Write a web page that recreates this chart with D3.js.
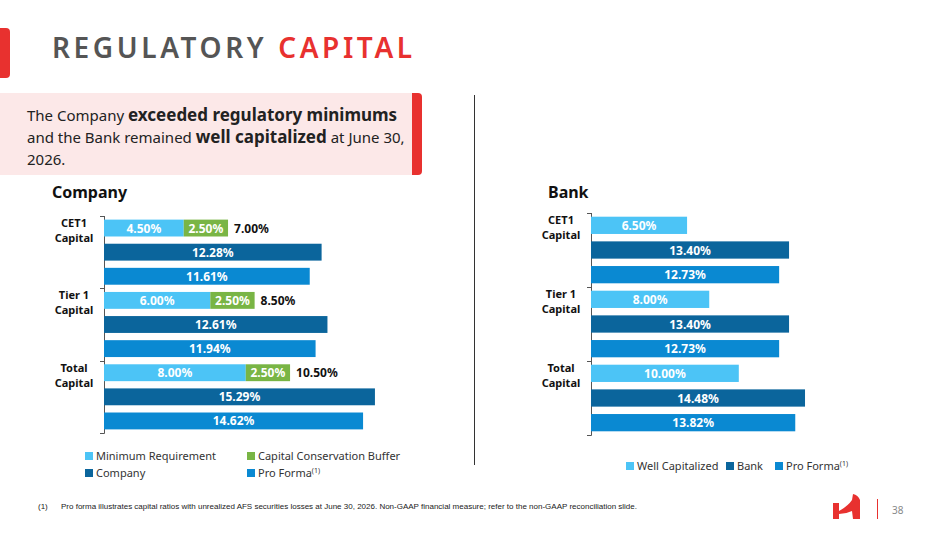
<!DOCTYPE html>
<html><head><meta charset="utf-8">
<script src="https://cdn.jsdelivr.net/npm/d3@7"></script>
<style>body{margin:0;background:#fff}svg{display:block;font-family:"Noto Sans",sans-serif}</style>
</head><body>
<svg id="c" width="949" height="534"></svg>
<script>
const groups = ['CET1 Capital', 'Tier 1 Capital', 'Total Capital'];
// company
const companyMin = [4.50, 6.00, 8.00];
const companyBuffer = [2.50, 2.50, 2.50];
const companyActual = [12.28, 12.61, 15.29];
const companyProForma = [11.61, 11.94, 14.62];
// bank
const bankWell = [6.50, 8.00, 10.00];
const bankActual = [13.40, 13.40, 14.48];
const bankProForma = [12.73, 12.73, 13.82];

const col = { light: '#4cc4f6', green: '#79b545', dark: '#0b659c', pro: '#0a89d2' };
const svg = d3.select('#c');
const fmt = d => d.toFixed(2) + '%';

// header
svg.append('rect').attr('x', -10).attr('y', 28).attr('width', 20).attr('height', 50).attr('rx', 4).attr('fill', '#e8312f');
const t = svg.append('text').attr('x', 52).attr('y', 58).attr('font-size', 28).attr('font-weight', 600).attr('letter-spacing', 3.6);
t.append('tspan').attr('fill', '#555').text('REGULATORY ');
t.append('tspan').attr('fill', '#e8312f').text('CAPITAL');

svg.append('rect').attr('x', 400).attr('y', 93).attr('width', 22).attr('height', 82).attr('rx', 4).attr('fill', '#e8312f');
svg.append('rect').attr('x', 0).attr('y', 93).attr('width', 412).attr('height', 82).attr('fill', '#fce8e8');
const lines = [
  [['The Company ', 400], ['exceeded regulatory minimums', 700]],
  [['and the Bank remained ', 400], ['well capitalized', 700], [' at June 30,', 400]],
  [['2026.', 400]]
];
lines.forEach((ln, i) => {
  const tx = svg.append('text').attr('x', 27).attr('y', 121 + i * 22).attr('font-size', 15).attr('fill', '#222');
  ln.forEach(([s, w]) => tx.append('tspan').attr('font-weight', w).attr('font-size', w === 700 ? 17 : 15).text(s));
});
svg.append('line').attr('x1', 474.5).attr('x2', 474.5).attr('y1', 95).attr('y2', 465).attr('stroke', '#333').attr('stroke-width', 1);

function panel(o) {
  const g = svg.append('g');
  g.append('text').attr('x', o.titleX).attr('y', 198).attr('font-size', 16).attr('font-weight', 700).attr('fill', '#111').text(o.title);
  const y = d3.scaleBand().domain(groups).range([o.y0, o.y1]);
  const x = d3.scaleLinear().domain([0, 1]).range([o.x0, o.x0 + o.pxPer]);
  const inner = d3.scaleBand().domain([0, 1, 2]).range([0, y.bandwidth()]).paddingInner(0.3).paddingOuter(0.15);
  const ax = g.append('g').attr('transform', `translate(${o.x0},0)`)
    .call(d3.axisLeft(y).tickValues([]).tickSizeOuter(4));
  ax.select('.domain').attr('stroke', '#555');
  groups.forEach((gr, i) => {
    const yy = Math.round(y(gr)) + 0.5;
    g.append('line').attr('x1', o.x0 - 4).attr('x2', o.x0 + 1).attr('y1', yy).attr('y2', yy).attr('stroke', '#555');
    const lbl = gr.split(' ');
    const lt = g.append('text').attr('text-anchor', 'middle').attr('font-size', 11).attr('font-weight', 700).attr('fill', '#111');
    lt.append('tspan').attr('x', o.x0 - 30).attr('y', y(gr) + 11).text(lbl[0] === 'Tier' ? 'Tier 1' : lbl[0]);
    lt.append('tspan').attr('x', o.x0 - 30).attr('y', y(gr) + 26).text('Capital');
  });
  o.rows.forEach((r, k) => {
    groups.forEach((gr, i) => {
      const by = y(gr) + inner(k), bh = inner.bandwidth();
      let start = 0;
      r.forEach(s => {
        const v = s.values[i];
        g.append('rect').attr('x', x(start)).attr('y', by).attr('width', x(start + v) - x(start)).attr('height', bh).attr('fill', s.color);
        g.append('text').attr('x', (x(start) + x(start + v)) / 2).attr('y', by + bh / 2 + 4.5)
          .attr('text-anchor', 'middle').attr('font-size', 12).attr('font-weight', 700).attr('fill', '#fff').text(fmt(v));
        start += v;
      });
      if (r.length > 1) {
        g.append('text').attr('x', x(start) + 6).attr('y', by + bh / 2 + 4.5).attr('font-size', 12)
          .attr('font-weight', 700).attr('fill', '#111').text(fmt(start));
      }
    });
  });
  o.legend.forEach(l => {
    g.append('rect').attr('x', l.x).attr('y', l.y - 8).attr('width', 8).attr('height', 8).attr('fill', l.color);
    const lt = g.append('text').attr('x', l.x + 11).attr('y', l.y).attr('font-size', 11).attr('fill', '#333').text(l.name);
    if (l.sup) lt.append('tspan').attr('font-size', 7).attr('dy', -4).text('(1)');
  });
}

panel({
  title: 'Company', titleX: 52, x0: 104, pxPer: 17.72, y0: 216, y1: 433,
  rows: [
    [{ values: companyMin, color: col.light }, { values: companyBuffer, color: col.green }],
    [{ values: companyActual, color: col.dark }],
    [{ values: companyProForma, color: col.pro }]
  ],
  legend: [
    { name: 'Minimum Requirement', color: col.light, x: 85, y: 460 },
    { name: 'Capital Conservation Buffer', color: col.green, x: 247, y: 460 },
    { name: 'Company', color: col.dark, x: 85, y: 477 },
    { name: 'Pro Forma', color: col.pro, x: 247, y: 477, sup: true }
  ]
});
panel({
  title: 'Bank', titleX: 548, x0: 591, pxPer: 14.78, y0: 213, y1: 435,
  rows: [
    [{ values: bankWell, color: col.light }],
    [{ values: bankActual, color: col.dark }],
    [{ values: bankProForma, color: col.pro }]
  ],
  legend: [
    { name: 'Well Capitalized', color: col.light, x: 626, y: 470 },
    { name: 'Bank', color: col.dark, x: 726, y: 470 },
    { name: 'Pro Forma', color: col.pro, x: 775, y: 470, sup: true }
  ]
});

const fn = svg.append('text').attr('y', 509).attr('font-family', 'Liberation Sans, Arial').attr('font-size', 8).attr('fill', '#222');
fn.append('tspan').attr('x', 38).text('(1)');
fn.append('tspan').attr('x', 61).text('Pro forma illustrates capital ratios with unrealized AFS securities losses at June 30, 2026. Non-GAAP financial measure; refer to the non-GAAP reconciliation slide.');
// logo
svg.append('path').attr('d', 'M833,503 L839,503 L839,511 Q848,506 852,500 L853,494 Q858,495 860,500 L860,519 L853,519 L852,511 Q846,514 839,514 L839,519 L833,519 Z').attr('fill', '#e8312f');
svg.append('line').attr('x1', 877.5).attr('x2', 877.5).attr('y1', 499).attr('y2', 519).attr('stroke', '#e8312f');
svg.append('text').attr('x', 892).attr('y', 514).attr('font-size', 10).attr('fill', '#888').text('38');
</script>
</body></html>
